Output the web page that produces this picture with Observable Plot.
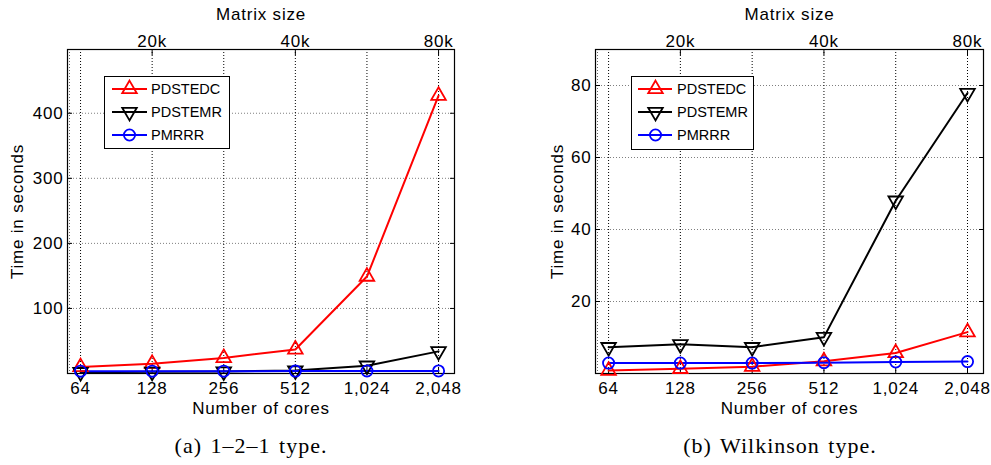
<!DOCTYPE html>
<html><head><meta charset="utf-8">
<script src="https://cdn.jsdelivr.net/npm/d3@7"></script>
<script src="https://cdn.jsdelivr.net/npm/@observablehq/plot@0.6"></script>
<style>
html,body{margin:0;padding:0;background:#fff}
body{width:991px;height:465px;overflow:hidden;position:relative;font-family:"Liberation Sans",Arial,sans-serif}
.panel{position:absolute;top:0}
.caption{position:absolute;top:433px;font-family:"Liberation Serif","DejaVu Serif",serif;font-size:22px;letter-spacing:1px;word-spacing:2px;transform:translateX(-50%);white-space:nowrap;line-height:26px}
.legend{position:absolute;border:1px solid #000;background:#fff;box-sizing:border-box}
.legend svg{display:block}
</style></head>
<body>
<script>
// ---- data ----
const cores = [64, 128, 256, 512, 1024, 2048];
const sizeTicks = [128, 512, 2048];
const sizeLabels = ["20k", "40k", "80k"];
const edgeGrid = [57.5];
const solvers = ["PDSTEDC", "PDSTEMR", "PMRRR"];
const solverColors = ["#ff0000", "#000000", "#0000ff"];
// (a) 1-2-1 type
const a_PDSTEDC = [10, 15, 24, 37, 149, 427];
const a_PDSTEMR = [2, 2.5, 3, 4.6, 12, 34];
const a_PMRRR = [3.6, 3.6, 3.6, 3.7, 3.8, 3.9];
const a_yTicks = [100, 200, 300, 400];
// (b) Wilkinson type
const b_PDSTEDC = [0.8, 1.3, 1.9, 3.4, 5.7, 11.5];
const b_PDSTEMR = [7.3, 8.1, 7.3, 10.1, 48, 77.9];
const b_PMRRR = [2.9, 2.9, 2.9, 3.0, 3.2, 3.3];
const b_yTicks = [20, 40, 60, 80];

const symbols = ["triangle", "triangle", "circle"];
const rotations = [0, 180, 0];

function panel(series, yDomain, yTicks, opts) {
  const rows = solvers.flatMap((s, i) => cores.map((c, j) => ({solver: s, cores: c, time: series[i][j]})));
  const gridStyle = {stroke: "#000", strokeOpacity: 1, strokeDasharray: "1,2", strokeWidth: 1};
  const fs = 17;
  return Plot.plot({
    width: opts.width, height: 420,
    marginTop: 49, marginBottom: 47, marginLeft: opts.marginLeft, marginRight: opts.marginRight,
    x: {type: "log", base: 2, domain: [56.4, 2390]},
    y: {domain: yDomain},
    style: {fontFamily: "'Liberation Sans', Arial, sans-serif", fontSize: "17px", letterSpacing: "0.8px", background: "#fff", color: "#000", overflow: "visible"},
    marks: [
      Plot.gridX(cores, gridStyle),
      Plot.gridX(edgeGrid, {...gridStyle, strokeOpacity: 0.6}),
      Plot.gridY(yTicks, {...gridStyle, strokeOpacity: 0.5}),
      Plot.axisX(cores, {anchor: "bottom", tickSize: -5, tickPadding: 13, fontSize: fs, tickFormat: d3.format(","),
        label: "Number of cores", labelAnchor: "center", labelArrow: "none", labelOffset: opts.xLabelOffset}),
      Plot.axisX(sizeTicks, {anchor: "top", tickSize: -5, tickPadding: 8, fontSize: fs,
        tickFormat: d => sizeLabels[sizeTicks.indexOf(d)],
        label: "Matrix size", labelAnchor: "center", labelArrow: "none", labelOffset: opts.topLabelOffset}),
      Plot.axisY(yTicks, {anchor: "left", tickSize: -5, tickPadding: 9, fontSize: fs,
        label: "Time in seconds", labelAnchor: "center", labelArrow: "none", labelOffset: opts.yLabelOffset}),
      Plot.axisY(yTicks, {anchor: "right", tickSize: -5, tickFormat: () => "", label: null}),
      Plot.frame({stroke: "#000", strokeWidth: 1.2}),
      ...solvers.map((s, i) => Plot.line(rows.filter(d => d.solver === s), {x: "cores", y: "time", stroke: solverColors[i], strokeWidth: 2})),
      ...solvers.map((s, i) => Plot.dot(rows.filter(d => d.solver === s), {
        x: "cores", y: "time", symbol: symbols[i], rotate: rotations[i],
        r: symbols[i] === "circle" ? 5.6 : 5.4, stroke: solverColors[i], strokeWidth: 1.8, fill: "none"}))
    ]
  });
}

function legend(left, top, width, height, lineX0, lineX1, markX, textX) {
  const div = document.createElement("div");
  div.className = "legend";
  div.style.left = left + "px"; div.style.top = top + "px";
  div.style.width = width + "px"; div.style.height = height + "px";
  const svg = d3.create("svg").attr("width", width - 2).attr("height", height - 2);
  const rowsY = [12, 35, 58];
  solvers.forEach((s, i) => {
    const g = svg.append("g").attr("transform", `translate(0,${rowsY[i]})`);
    g.append("line").attr("x1", lineX0).attr("x2", lineX1).attr("y1", 0).attr("y2", 0)
      .attr("stroke", solverColors[i]).attr("stroke-width", 2);
    const sym = symbols[i] === "circle" ? d3.symbolCircle : d3.symbolTriangle;
    const size = symbols[i] === "circle" ? Math.PI * 5.6 * 5.6 : Math.PI * 5.4 * 5.4;
    g.append("path").attr("d", d3.symbol(sym, size)())
      .attr("transform", `translate(${markX},0) rotate(${rotations[i]})`)
      .attr("fill", "none").attr("stroke", solverColors[i]).attr("stroke-width", 1.8);
    g.append("text").attr("x", textX).attr("y", 0).attr("dy", "0.35em")
      .attr("font-size", "14.5px").attr("font-family", "'Liberation Sans', Arial, sans-serif")
      .text(s);
  });
  div.appendChild(svg.node());
  document.body.appendChild(div);
}

const p1 = panel([a_PDSTEDC, a_PDSTEMR, a_PMRRR], [0, 498], a_yTicks,
  {width: 495, marginLeft: 67, marginRight: 41, yLabelOffset: 57, xLabelOffset: 40, topLabelOffset: 42});
p1.classList.add("panel"); p1.style.left = "0px";
document.body.appendChild(p1);

const p2 = panel([b_PDSTEDC, b_PDSTEMR, b_PMRRR], [0, 90], b_yTicks,
  {width: 496, marginLeft: 100, marginRight: 8, yLabelOffset: 45, xLabelOffset: 40, topLabelOffset: 42});
p2.classList.add("panel"); p2.style.left = "495px";
document.body.appendChild(p2);

legend(104, 76, 126, 73, 7, 42, 24.5, 46);
legend(631, 76, 123, 74, 6, 40, 23.5, 45);

const captions = [["(a) 1–2–1 type.", 251], ["(b) Wilkinson type.", 780]];
captions.forEach(([t, x]) => {
  const c = document.createElement("div");
  c.className = "caption"; c.style.left = x + "px"; c.textContent = t;
  document.body.appendChild(c);
});
</script>
</body></html>
